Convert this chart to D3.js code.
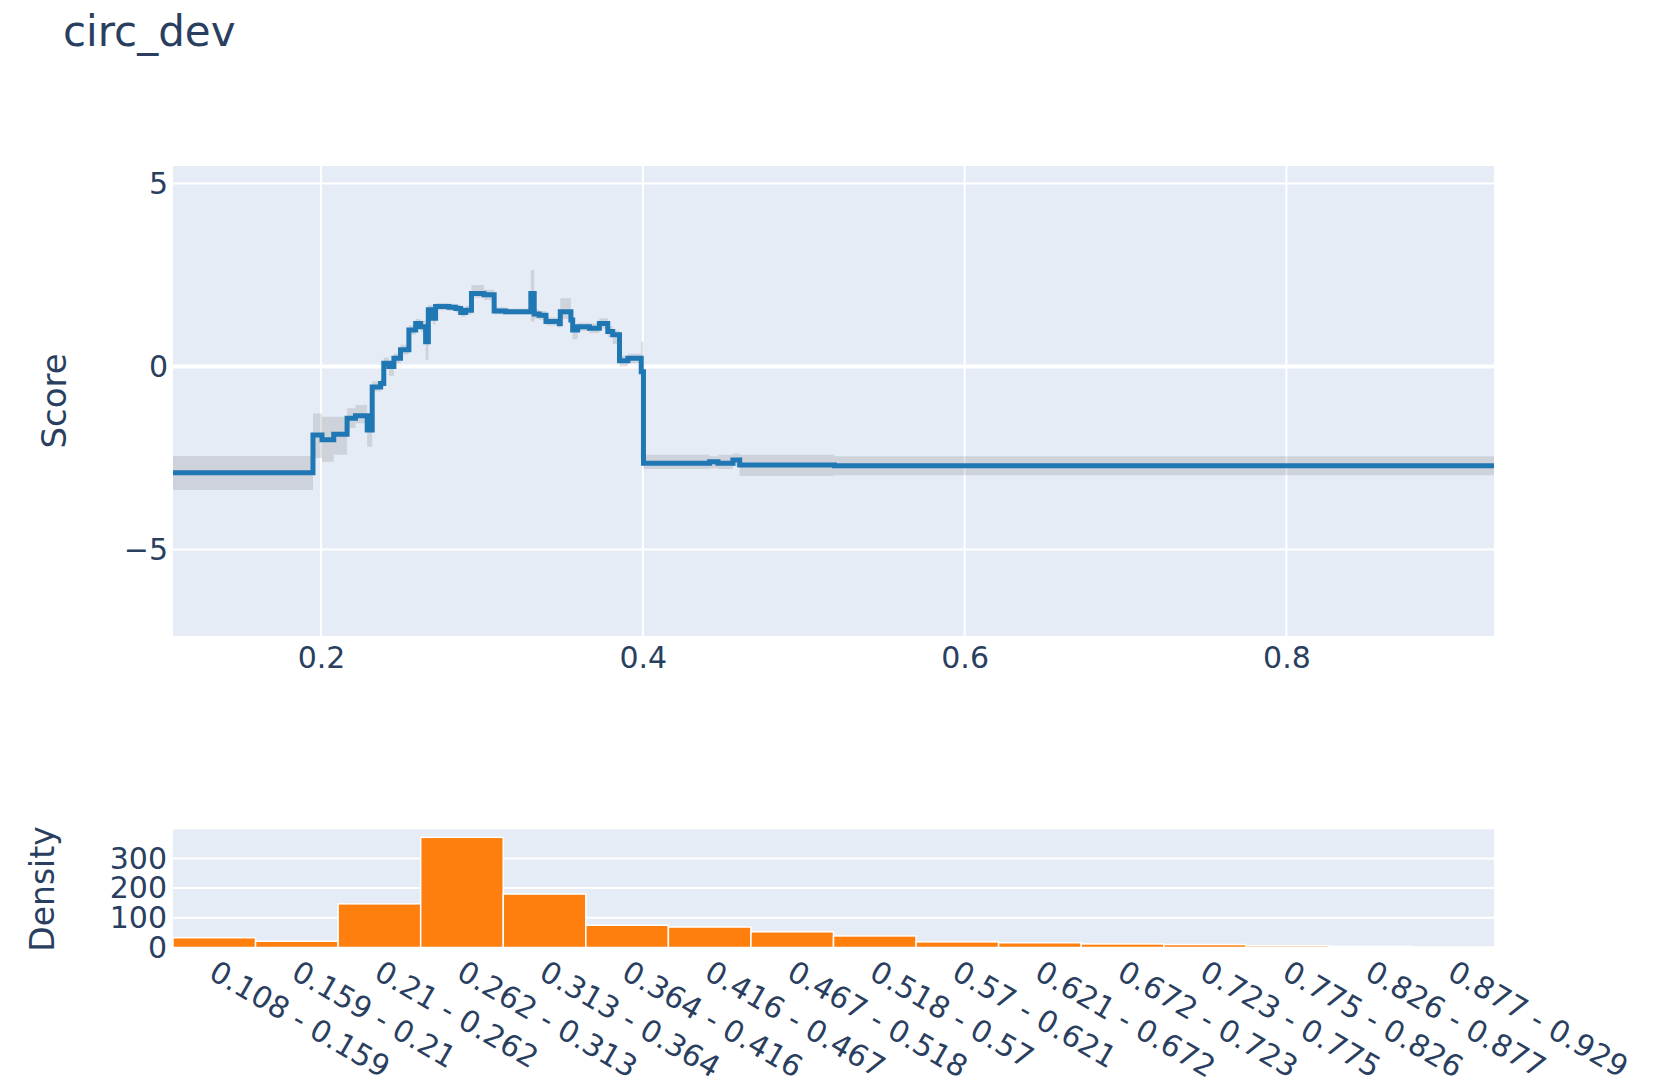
<!doctype html>
<html>
<head>
<meta charset="utf-8">
<script src="https://d3js.org/d3.v7.min.js"></script>
<style>
  body { margin: 0; background: #fff; }
  text { font-family: "DejaVu Sans", Verdana, sans-serif; fill: #2a3f5f; }
</style>
</head>
<body>
<svg width="1679" height="1081"></svg>
<script>
// shape function: bin start edges, score per bin and the band around it
var edges = [0.108, 0.195, 0.2006, 0.2079, 0.2162, 0.2214, 0.2287, 0.2318, 0.2370, 0.2390,
             0.2422, 0.2453, 0.2494, 0.2546, 0.2588, 0.2619, 0.2650, 0.2667, 0.2696, 0.2712,
             0.2795, 0.2837, 0.2868, 0.2899, 0.2935, 0.3013, 0.3076, 0.3148, 0.3304, 0.3325,
             0.3356, 0.3398, 0.3481, 0.3487, 0.3553, 0.3564, 0.3595, 0.3668, 0.3730, 0.3782,
             0.3813, 0.3855, 0.3907, 0.3990, 0.4004, 0.4415, 0.4467, 0.4560, 0.4602, 0.5190, 0.929];
var scores = [-2.90, -1.87, -2.00, -1.85, -1.41, -1.34, -1.73, -0.56, -0.46, 0.09,
              0.00, 0.23, 0.46, 1.00, 1.18, 1.09, 0.68, 1.55, 1.32, 1.64,
              1.62, 1.59, 1.48, 1.54, 2.00, 1.96, 1.52, 1.50, 2.00, 1.44,
              1.40, 1.23, 1.17, 1.50, 1.27, 1.00, 1.09, 1.05, 1.18, 0.96,
              0.87, 0.16, 0.23, -0.14, -2.64, -2.60, -2.64, -2.55, -2.69, -2.71];
var upper = [-2.44, -1.28, -1.37, -1.37, -1.14, -1.05, -1.32, -0.41, -0.33, 0.25,
             0.12, 0.36, 0.60, 1.12, 1.30, 1.25, 1.55, 1.68, 1.50, 1.74,
             1.72, 1.69, 1.60, 1.66, 2.23, 2.10, 1.62, 1.58, 2.64, 1.56,
             1.52, 1.34, 1.30, 1.87, 1.40, 1.15, 1.20, 1.18, 1.32, 1.10,
             0.98, 0.30, 0.35, 0.68, -2.41, -2.45, -2.41, -2.38, -2.41, -2.45];
var lower = [-3.37, -2.50, -2.60, -2.41, -1.68, -1.55, -2.19, -0.68, -0.60, -0.05,
             -0.25, 0.10, 0.33, 0.88, 1.05, 0.95, 0.18, 1.40, 1.15, 1.54,
             1.52, 1.48, 1.36, 1.42, 1.88, 1.82, 1.42, 1.42, 1.23, 1.30,
             1.28, 1.12, 1.05, 1.30, 1.12, 0.75, 0.98, 0.92, 1.04, 0.80,
             0.62, 0.00, 0.10, -0.40, -2.80, -2.78, -2.80, -2.72, -2.99, -2.97];
var scoreTicks = [-5, 0, 5];
var xTicks = [0.2, 0.4, 0.6, 0.8];

// density histogram
var bins = ["0.108 - 0.159", "0.159 - 0.21", "0.21 - 0.262", "0.262 - 0.313", "0.313 - 0.364",
            "0.364 - 0.416", "0.416 - 0.467", "0.467 - 0.518", "0.518 - 0.57", "0.57 - 0.621",
            "0.621 - 0.672", "0.672 - 0.723", "0.723 - 0.775", "0.775 - 0.826", "0.826 - 0.877",
            "0.877 - 0.929"];
var counts = [33, 21, 147, 371, 180, 75, 69, 53, 39, 19, 16, 12, 10, 6, 4, 1];
var densityTicks = [0, 100, 200, 300];

var svg = d3.select("svg");
var L = 173, R = 1494;
var top1 = 166, bot1 = 636;
var top2 = 829.3, bot2 = 947.5;
var tickFont = "30px";

// build step points (last edge closes the final bin)
var pts = scores.map(function(s, i) { return {x: edges[i], y: s, hi: upper[i], lo: lower[i]}; });
pts.push({x: edges[edges.length - 1], y: scores[scores.length - 1],
          hi: upper[upper.length - 1], lo: lower[lower.length - 1]});

var x = d3.scaleLinear().domain([0.108, 0.929]).range([L, R]);
var y = d3.scaleLinear().domain([-7.36, 5.48]).range([bot1, top1]);

// title
svg.append("text").attr("x", 63).attr("y", 46).style("font-size", "42px").text("circ_dev");

// top panel
svg.append("rect").attr("x", L).attr("y", top1).attr("width", R - L).attr("height", bot1 - top1)
   .attr("fill", "#e5ecf6");

svg.append("g").selectAll("line").data(xTicks).enter().append("line")
   .attr("x1", function(d) { return x(d); }).attr("x2", function(d) { return x(d); })
   .attr("y1", top1).attr("y2", bot1).attr("stroke", "#fff").attr("stroke-width", 2);
svg.append("g").selectAll("line").data(scoreTicks).enter().append("line")
   .attr("x1", L).attr("x2", R)
   .attr("y1", function(d) { return y(d); }).attr("y2", function(d) { return y(d); })
   .attr("stroke", "#fff").attr("stroke-width", function(d) { return d === 0 ? 4 : 2; });

var band = d3.area().curve(d3.curveStepAfter)
   .x(function(d) { return x(d.x); })
   .y0(function(d) { return y(d.lo); })
   .y1(function(d) { return y(d.hi); });
svg.append("path").datum(pts).attr("d", band).attr("fill", "rgba(68,68,68,0.15)");

var line = d3.line().curve(d3.curveStepAfter)
   .x(function(d) { return x(d.x); })
   .y(function(d) { return y(d.y); });
svg.append("path").datum(pts).attr("d", line)
   .attr("fill", "none").attr("stroke", "#1f77b4").attr("stroke-width", 5);

var ya = svg.append("g").attr("transform", "translate(" + L + ",0)")
   .call(d3.axisLeft(y).tickValues(scoreTicks).tickSize(0).tickPadding(5));
var xa = svg.append("g").attr("transform", "translate(0," + bot1 + ")")
   .call(d3.axisBottom(x).tickValues(xTicks).tickSize(0).tickPadding(11).tickFormat(d3.format("~g")));
[ya, xa].forEach(function(a) {
  a.select(".domain").remove();
  a.selectAll("text").style("font-size", tickFont).attr("fill", "#2a3f5f")
   .style("font-family", '"DejaVu Sans", Verdana, sans-serif');
});

svg.append("text").attr("transform", "translate(66,401) rotate(-90)")
   .attr("text-anchor", "middle").style("font-size", "34px").text("Score");

// bottom panel
var xb = d3.scaleBand().domain(bins).range([L, R]).padding(0);
var yb = d3.scaleLinear().domain([0, 398]).range([bot2, top2]);

svg.append("rect").attr("x", L).attr("y", top2).attr("width", R - L).attr("height", bot2 - top2)
   .attr("fill", "#e5ecf6");
svg.append("g").selectAll("line").data(densityTicks).enter().append("line")
   .attr("x1", L).attr("x2", R)
   .attr("y1", function(d) { return yb(d); }).attr("y2", function(d) { return yb(d); })
   .attr("stroke", "#fff").attr("stroke-width", 2);

svg.append("g").selectAll("rect").data(bins).enter().append("rect")
   .attr("x", function(d) { return xb(d); })
   .attr("width", xb.bandwidth())
   .attr("y", function(d, i) { return yb(counts[i]); })
   .attr("height", function(d, i) { return bot2 - yb(counts[i]); })
   .attr("fill", "#ff7f0e").attr("stroke", "#fff").attr("stroke-width", 1.5);

var yba = svg.append("g").attr("transform", "translate(" + L + ",0)")
   .call(d3.axisLeft(yb).tickValues(densityTicks).tickSize(0).tickPadding(6));
var xba = svg.append("g").attr("transform", "translate(0," + bot2 + ")")
   .call(d3.axisBottom(xb).tickSize(0));
[yba, xba].forEach(function(a) {
  a.select(".domain").remove();
  a.selectAll("text").style("font-size", tickFont).attr("fill", "#2a3f5f")
   .style("font-family", '"DejaVu Sans", Verdana, sans-serif');
});
xba.selectAll("text")
   .attr("x", 0).attr("y", 28).attr("dy", null)
   .attr("text-anchor", "start")
   .attr("transform", "translate(7,6) rotate(30)");

svg.append("text").attr("transform", "translate(54,889) rotate(-90)")
   .attr("text-anchor", "middle").style("font-size", "33px").text("Density");
</script>
</body>
</html>
